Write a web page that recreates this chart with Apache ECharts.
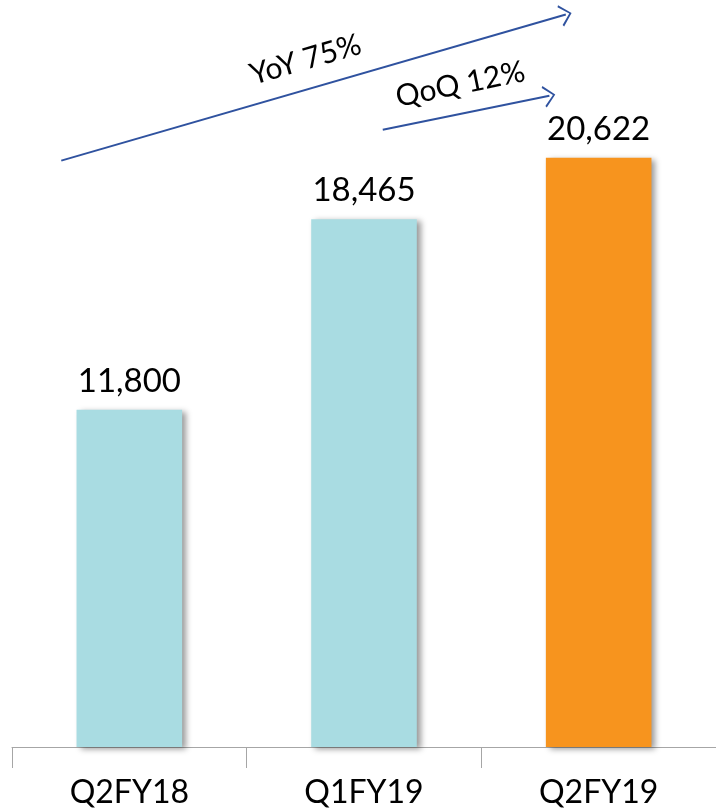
<!DOCTYPE html>
<html>
<head>
<meta charset="utf-8">
<script src="https://cdn.jsdelivr.net/npm/echarts@6/dist/echarts.min.js"></script>
<style>
  html, body { margin: 0; padding: 0; background: #fff; }
  #main { width: 716px; height: 811px; }
</style>
</head>
<body>
<div id="main"></div>
<script>
    // 数据
    var categories = ['Q2FY18', 'Q1FY19', 'Q2FY19'];
    var values = [11800, 18465, 20622];
    var barColors = ['#A9DCE2', '#A9DCE2', '#F7941E'];

    // 增长箭头（x 为类目位置 0-3，y 为数值）
    var arrowNames = ['YoY 75%', 'QoQ 12%'];
    var arrowStart = [[0.21, 20520], [1.58, 21600]];
    var arrowEnd = [[2.36, 25630], [2.29, 22790]];

    // 开口箭头，尖端朝上
    var chevron = 'path://M0,10 L10,0 L20,10 L18.4,11 L10,2.2 L1.6,11 Z';

    var myChart = echarts.init(document.getElementById('main'));

    var barData = [];
    for (var i = 0; i < values.length; i++) {
        barData.push({ value: values[i], itemStyle: { color: barColors[i] } });
    }

    var arrowLines = [];
    for (var j = 0; j < arrowNames.length; j++) {
        arrowLines.push([
            { coord: arrowStart[j], name: arrowNames[j] },
            { coord: arrowEnd[j] }
        ]);
    }

    var option = {
        animation: false,
        grid: { left: 12, right: -4, top: 4, bottom: 64 },
        xAxis: [
            {
                type: 'category',
                data: categories,
                axisLine: { show: true, lineStyle: { color: '#A6A6A6', width: 1 } },
                axisTick: { show: true, length: 21, lineStyle: { color: '#A6A6A6', width: 1 } },
                axisLabel: {
                    margin: 30,
                    color: '#000',
                    fontSize: 32,
                    fontFamily: 'Lato'
                }
            },
            { type: 'value', min: 0, max: 3, show: false }
        ],
        yAxis: {
            type: 'value',
            min: 0,
            max: 26000,
            show: false,
            splitLine: { show: false }
        },
        series: [
            {
                type: 'bar',
                data: barData,
                barWidth: '45%',
                itemStyle: {
                    shadowColor: 'rgba(0,0,0,0.4)',
                    shadowBlur: 6,
                    shadowOffsetX: 4,
                    shadowOffsetY: 2
                },
                label: {
                    show: true,
                    position: 'top',
                    distance: 12,
                    color: '#000',
                    fontSize: 33,
                    fontFamily: 'Lato',
                    formatter: function (p) {
                        return p.value.toLocaleString('en-US');
                    }
                }
            },
            {
                type: 'line',
                xAxisIndex: 1,
                data: [],
                markLine: {
                    silent: true,
                    symbol: ['none', chevron],
                    symbolSize: [22, 12],
                    symbolOffset: [0, 0],
                    lineStyle: { color: '#2F529F', width: 2, type: 'solid' },
                    itemStyle: { color: '#2F529F' },
                    label: {
                        show: true,
                        position: 'insideMiddleTop',
                        formatter: '{b}',
                        color: '#000',
                        fontSize: 30,
                        fontFamily: 'Lato',
                        distance: 14
                    },
                    data: arrowLines
                }
            }
        ]
    };
    myChart.setOption(option, true);
</script>
</body>
</html>
